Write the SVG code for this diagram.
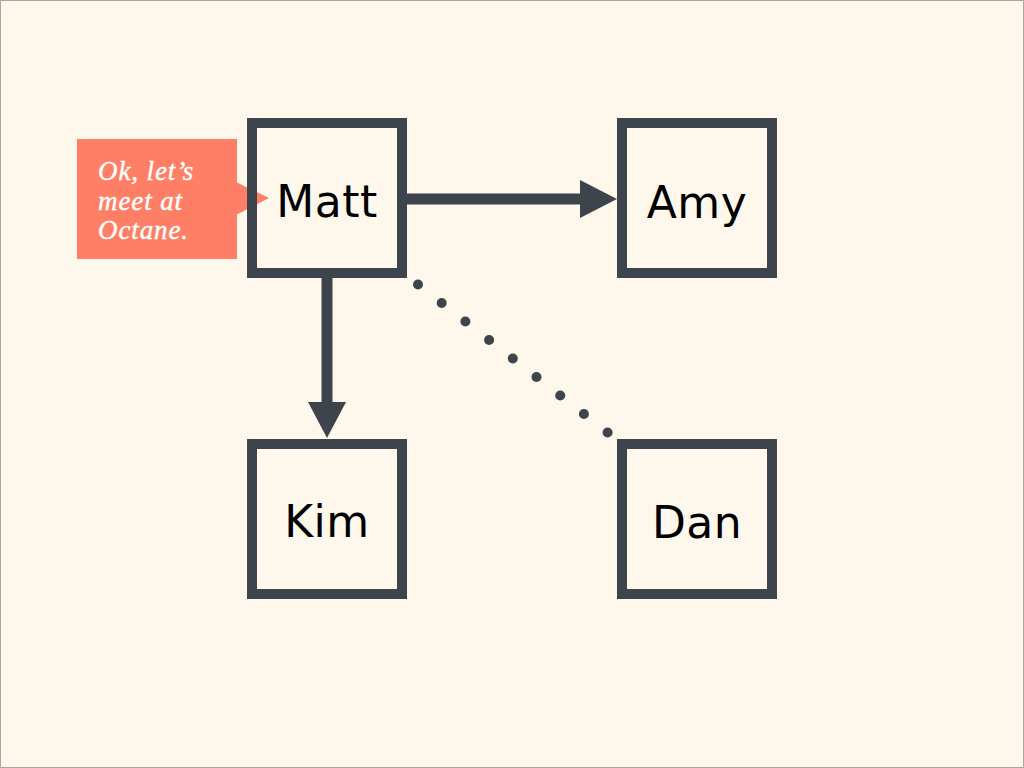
<svg xmlns="http://www.w3.org/2000/svg" width="1024" height="768" viewBox="0 0 1024 768">
<defs>
<style>
.node rect{fill:none;stroke:#3D444C;stroke-width:10}
.node text{font-family:"DejaVu Sans","Liberation Sans",sans-serif;font-size:44px;fill:#000;text-anchor:middle;letter-spacing:0.5px}
.conn line{stroke:#3D444C;stroke-width:11}
.dot{fill:#3D444C}
.head{fill:#3D444C}
.bubble text{font-family:"Liberation Serif",serif;font-style:italic;font-size:27px;letter-spacing:0.9px;fill:#FFFFFF;stroke:#FFFFFF;stroke-width:0.4}
</style>
</defs>
<rect x="0.5" y="0.5" width="1023" height="767" fill="#FDF7EC" stroke="#A8A8A8" stroke-width="1"/>
<g id="connectors" class="conn">
<line x1="407" y1="199" x2="582" y2="199"/>
<polygon class="head" points="580,180 617,199 580,218"/>
<line x1="327" y1="278" x2="327" y2="404"/>
<polygon class="head" points="308,402 346,402 327,438"/>
<g id="dotted">
<circle class="dot" cx="418" cy="284.5" r="5"/>
<circle class="dot" cx="441.7" cy="303" r="5"/>
<circle class="dot" cx="465.4" cy="321.5" r="5"/>
<circle class="dot" cx="489.1" cy="340" r="5"/>
<circle class="dot" cx="512.8" cy="358.5" r="5"/>
<circle class="dot" cx="536.5" cy="377" r="5"/>
<circle class="dot" cx="560.2" cy="395.5" r="5"/>
<circle class="dot" cx="583.9" cy="414" r="5"/>
<circle class="dot" cx="607.6" cy="432.5" r="5"/>
</g>
</g>
<g id="callout" class="bubble">
<rect x="77" y="139" width="160" height="120" fill="#FF7F66" stroke="none"/>
<polygon points="236,182 269,198 236,215" fill="#FF7F66" stroke="none"/>
<text x="98" y="180">Ok, let’s</text>
<text x="98" y="209.5">meet at</text>
<text x="98" y="239">Octane.</text>
</g>
<g id="node-matt" class="node">
<rect x="252" y="123" width="150" height="150"/>
<text x="327" y="217">Matt</text>
</g>
<g id="node-amy" class="node">
<rect x="622" y="123" width="150" height="150"/>
<text x="697" y="218">Amy</text>
</g>
<g id="node-kim" class="node">
<rect x="252" y="444" width="150" height="150"/>
<text x="327" y="537">Kim</text>
</g>
<g id="node-dan" class="node">
<rect x="622" y="444" width="150" height="150"/>
<text x="697" y="538">Dan</text>
</g>
</svg>
